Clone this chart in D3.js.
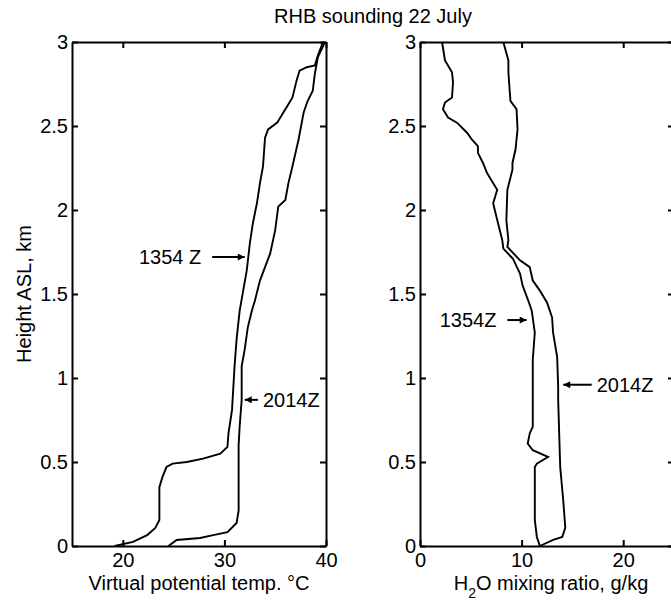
<!DOCTYPE html>
<html>
<head>
<meta charset="utf-8">
<script src="https://cdn.jsdelivr.net/npm/d3@7"></script>
<style>
  body { margin: 0; background: #fff; }
  svg { display: block; overflow: hidden; }
  text { font-family: "Liberation Sans", Arial, sans-serif; fill: #000; }
  .axis path, .axis line { stroke: #000; stroke-width: 2; }
  .axis text { font-size: 20px; fill: #000; }
</style>
</head>
<body>
<svg id="chart" width="671" height="602"></svg>
<script>
// heights are km ASL
var thetaH1354 = [0, 0.024, 0.065, 0.107, 0.155, 0.35, 0.41, 0.47, 0.49, 0.50, 0.52, 0.55, 0.59, 0.67, 0.75, 0.81, 1.07, 1.23, 1.40, 1.64, 1.80, 1.92, 2.04, 2.16, 2.26, 2.43, 2.48, 2.52, 2.57, 2.63, 2.67, 2.77, 2.83, 2.85, 2.86, 2.92, 3.0]
var thetaV1354 = [19.2, 21.0, 22.4, 23.2, 23.6, 23.6, 23.9, 24.3, 24.9, 26.3, 27.9, 29.6, 30.3, 30.4, 30.6, 30.75, 31.0, 31.2, 31.5, 32.2, 32.5, 32.8, 33.2, 33.5, 33.8, 34.0, 34.3, 35.2, 35.7, 36.3, 36.7, 37.1, 37.4, 38.1, 38.9, 39.2, 39.7]

var thetaH2014 = [0, 0.036, 0.048, 0.065, 0.083, 0.137, 0.21, 0.6, 0.71, 0.87, 1.07, 1.17, 1.3, 1.40, 1.46, 1.58, 1.74, 1.88, 2.02, 2.06, 2.16, 2.26, 2.42, 2.58, 2.65, 2.71, 2.81, 2.91, 3.0]
var thetaV2014 = [24.5, 25.3, 27.6, 28.9, 30.3, 31.2, 31.4, 31.4, 31.5, 31.7, 31.7, 32.0, 32.3, 32.7, 33.0, 33.5, 34.5, 35.0, 35.3, 36.0, 36.3, 36.7, 37.3, 37.8, 38.2, 38.7, 38.9, 39.2, 39.9]

var mixH1354 = [0, 0.054, 0.155, 0.47, 0.49, 0.53, 0.57, 0.61, 0.67, 0.71, 1.11, 1.27, 1.40, 1.47, 1.55, 1.62, 1.71, 1.77, 1.82, 1.94, 2.04, 2.12, 2.22, 2.28, 2.34, 2.38, 2.42, 2.46, 2.52, 2.55, 2.60, 2.64, 2.67, 2.76, 2.82, 2.89, 3.0]
var mixV1354 = [11.8, 11.5, 11.3, 11.3, 11.5, 12.6, 11.1, 10.6, 10.8, 11.1, 11.1, 11.3, 11.0, 10.6, 10.1, 9.85, 9.15, 8.2, 8.1, 7.6, 7.2, 7.6, 6.6, 6.2, 5.7, 5.7, 5.1, 4.63, 3.64, 2.76, 2.26, 2.46, 3.15, 3.25, 3.15, 2.46, 2.17]

var mixH2014 = [0, 0.036, 0.054, 0.11, 0.27, 0.47, 0.67, 0.87, 0.95, 1.125, 1.27, 1.36, 1.45, 1.52, 1.58, 1.66, 1.70, 1.78, 1.82, 1.94, 2.12, 2.24, 2.28, 2.36, 2.48, 2.6, 2.65, 2.82, 2.89, 3.0]
var mixV2014 = [11.8, 13.1, 14.0, 14.3, 14.1, 13.8, 13.7, 13.6, 13.6, 13.5, 13.1, 13.0, 12.5, 11.8, 11.1, 10.8, 9.85, 8.6, 8.7, 8.5, 8.6, 9.1, 9.1, 9.4, 9.6, 9.5, 8.9, 8.7, 8.7, 8.2]

var heightTicks = [0, 0.5, 1, 1.5, 2, 2.5, 3]
var thetaTicks = [20, 30, 40]
var mixTicks = [0, 10, 20]

// labels: [text, tip value, tip height, tail value]
var thetaNotes = [['1354 Z', 32.0, 1.72, 28.8], ['2014Z', 32.0, 0.87, 33.3]]
var mixNotes = [['1354Z', 10.5, 1.345, 8.6], ['2014Z', 14.1, 0.96, 16.9]]

var svg = d3.select('#chart')

svg.append('defs').append('marker')
  .attr('id', 'head')
  .attr('viewBox', '0 0 10 10')
  .attr('refX', 10).attr('refY', 5)
  .attr('markerUnits', 'userSpaceOnUse')
  .attr('markerWidth', 9).attr('markerHeight', 7)
  .attr('orient', 'auto')
  .append('path').attr('d', 'M0,0 L10,5 L0,10 Z').attr('fill', '#000')

var yScale = d3.scaleLinear().domain([0, 3]).range([546, 42])

function panel(xScale, ticks, hs1, vs1, hs2, vs2, notes) {
  var x0 = xScale.range()[0]
  var x1 = xScale.range()[1]

  var line = d3.line()
    .x(function(d) { return xScale(d[0]) })
    .y(function(d) { return yScale(d[1]) })

  var g = svg.append('g')

  g.append('path')
    .datum(d3.zip(vs1, hs1))
    .attr('d', line)
    .attr('fill', 'none').attr('stroke', '#000').attr('stroke-width', 1.9)
  g.append('path')
    .datum(d3.zip(vs2, hs2))
    .attr('d', line)
    .attr('fill', 'none').attr('stroke', '#000').attr('stroke-width', 1.9)

  g.append('g').attr('class', 'axis')
    .attr('transform', 'translate(' + x0 + ',0)')
    .call(d3.axisLeft(yScale).tickValues(heightTicks).tickSizeInner(-6).tickSizeOuter(0).tickPadding(4).tickFormat(d3.format('')))
  g.append('g').attr('class', 'axis')
    .attr('transform', 'translate(' + x1 + ',0)')
    .call(d3.axisRight(yScale).tickValues(heightTicks).tickSizeInner(-6).tickSizeOuter(0).tickFormat(''))
  g.append('g').attr('class', 'axis')
    .attr('transform', 'translate(0,546)')
    .call(d3.axisBottom(xScale).tickValues(ticks).tickSizeInner(-6).tickSizeOuter(0).tickPadding(7))
  g.append('g').attr('class', 'axis')
    .attr('transform', 'translate(0,42)')
    .call(d3.axisTop(xScale).tickValues(ticks).tickSizeInner(-6).tickSizeOuter(0).tickFormat(''))

  notes.forEach(function(n) {
    var right = n[3] > n[1]
    g.append('line')
      .attr('x1', xScale(n[3])).attr('x2', xScale(n[1]))
      .attr('y1', yScale(n[2])).attr('y2', yScale(n[2]))
      .attr('stroke', '#000').attr('stroke-width', 2)
      .attr('marker-end', 'url(#head)')
    g.append('text')
      .attr('x', xScale(n[3]) + (right ? 5 : -11))
      .attr('y', yScale(n[2]))
      .attr('dy', '0.36em')
      .attr('text-anchor', right ? 'start' : 'end')
      .style('font-size', '20px')
      .text(n[0])
  })
  return g
}

var xTheta = d3.scaleLinear().domain([15, 40]).range([72, 326])
var xMix = d3.scaleLinear().domain([0, 25]).range([420, 674])

panel(xTheta, thetaTicks, thetaH1354, thetaV1354, thetaH2014, thetaV2014, thetaNotes)
panel(xMix, mixTicks, mixH1354, mixV1354, mixH2014, mixV2014, mixNotes)

svg.append('text')
  .attr('x', 373).attr('y', 23)
  .attr('text-anchor', 'middle')
  .style('font-size', '20px')
  .text('RHB sounding 22 July')

svg.append('text')
  .attr('transform', 'translate(31,294) rotate(-90)')
  .attr('text-anchor', 'middle')
  .style('font-size', '20px')
  .text('Height ASL, km')

svg.append('text')
  .attr('x', 199).attr('y', 590)
  .attr('text-anchor', 'middle')
  .style('font-size', '20px')
  .text('Virtual potential temp. °C')

var mixLabel = svg.append('text')
  .attr('x', 551).attr('y', 590)
  .attr('text-anchor', 'middle')
  .style('font-size', '20px')
mixLabel.append('tspan').text('H')
mixLabel.append('tspan').attr('dy', 8).style('font-size', '14px').text('2')
mixLabel.append('tspan').attr('dy', -8).text('O mixing ratio, g/kg')
</script>
</body>
</html>
